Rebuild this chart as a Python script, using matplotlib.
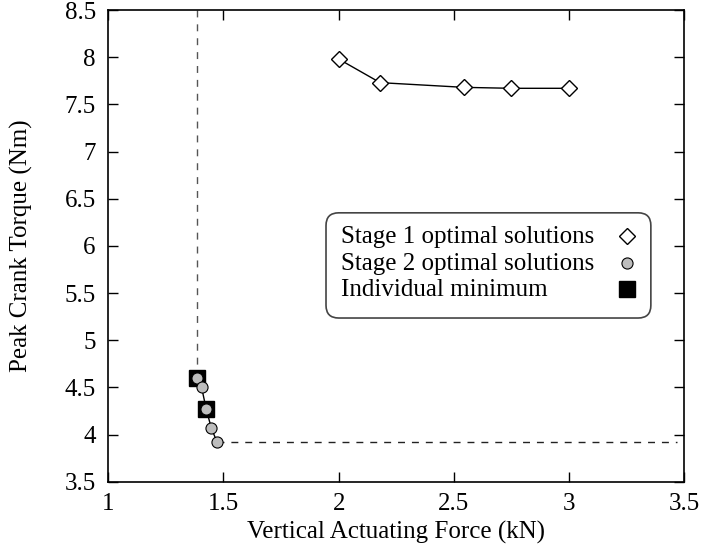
import matplotlib
matplotlib.use("Agg")
from matplotlib import pyplot as plt
from matplotlib.patches import FancyBboxPatch

# stage 1 optimal solutions
s1_force = [2.0, 2.18, 2.545, 2.75, 3.0]
s1_torque = [7.98, 7.73, 7.68, 7.67, 7.67]

# stage 2 optimal solutions
s2_force = [1.385, 1.405, 1.425, 1.447, 1.472]
s2_torque = [4.60, 4.50, 4.27, 4.07, 3.92]

# individual minima
min_force = [1.385, 1.425]
min_torque = [4.60, 4.27]

legend_labels = ['Stage 1 optimal solutions', 'Stage 2 optimal solutions', 'Individual minimum']

plt.rcParams['font.family'] = ['Liberation Serif', 'DejaVu Serif']
plt.rcParams['font.size'] = 18

fig = plt.figure(figsize=(7.05, 5.59), dpi=100)
ax = fig.add_axes([0.1536, 0.1383, 0.8170, 0.8438])

# dashed guide lines from the extreme stage 2 points
ax.plot([s2_force[0], s2_force[0]], [s2_torque[0], 8.5], color='#555555',
        lw=1, dashes=(5, 5), zorder=1)
ax.plot([s2_force[-1], 3.47], [s2_torque[-1], s2_torque[-1]], color='#222222',
        lw=1, dashes=(5, 5), zorder=1)

ax.plot(s1_force, s1_torque, color='black', lw=1, marker='D', ms=8,
        mfc='white', mec='black', mew=1, zorder=3)
ax.plot(min_force, min_torque, ls='none', marker='s', ms=11,
        mfc='black', mec='black', zorder=3)
ax.plot(s2_force, s2_torque, color='black', lw=1, marker='o', ms=8,
        mfc='#bdbdbd', mec='black', mew=0.8, zorder=4)

ax.set_xlim(1, 3.5)
ax.set_ylim(3.5, 8.5)
ax.set_xticks([1, 1.5, 2, 2.5, 3, 3.5])
ax.set_xticklabels(['1', '1.5', '2', '2.5', '3', '3.5'])
ax.set_yticks([3.5, 4, 4.5, 5, 5.5, 6, 6.5, 7, 7.5, 8, 8.5])
ax.set_yticklabels(['3.5', '4', '4.5', '5', '5.5', '6', '6.5', '7', '7.5', '8', '8.5'])
ax.tick_params(direction='in', length=7, width=1, top=True, right=True)
ax.tick_params(axis='x', pad=8)
ax.tick_params(axis='y', pad=9)
for sp in ax.spines.values():
    sp.set_linewidth(1.2)

ax.set_xlabel('Vertical Actuating Force (kN)')
ax.set_ylabel('Peak Crank Torque (Nm)')
ax.xaxis.set_label_coords(0.5, -0.083)
ax.yaxis.set_label_coords(-0.131, 0.5)

# hand-made legend: text on the left, marker on the right
box = FancyBboxPatch((0.378, 0.347), 0.564, 0.223, transform=ax.transAxes,
                     boxstyle='round,pad=0,rounding_size=0.022',
                     mutation_aspect=1.221, facecolor='white',
                     edgecolor='#444444', lw=1.2, zorder=5)
ax.add_patch(box)
row_y = [0.521, 0.464, 0.408]
styles = [dict(marker='D', ms=8, mfc='white', mec='black', mew=1),
          dict(marker='o', ms=8, mfc='#bdbdbd', mec='black', mew=0.8),
          dict(marker='s', ms=11, mfc='black', mec='black')]
for lab, yy, st in zip(legend_labels, row_y, styles):
    ax.text(0.404, yy - 0.0145, lab, transform=ax.transAxes, ha='left',
            va='baseline', zorder=6)
    ax.plot([0.9005], [yy], ls='none', transform=ax.transAxes, zorder=6,
            clip_on=False, **st)

fig.savefig('out.png', dpi=100)
